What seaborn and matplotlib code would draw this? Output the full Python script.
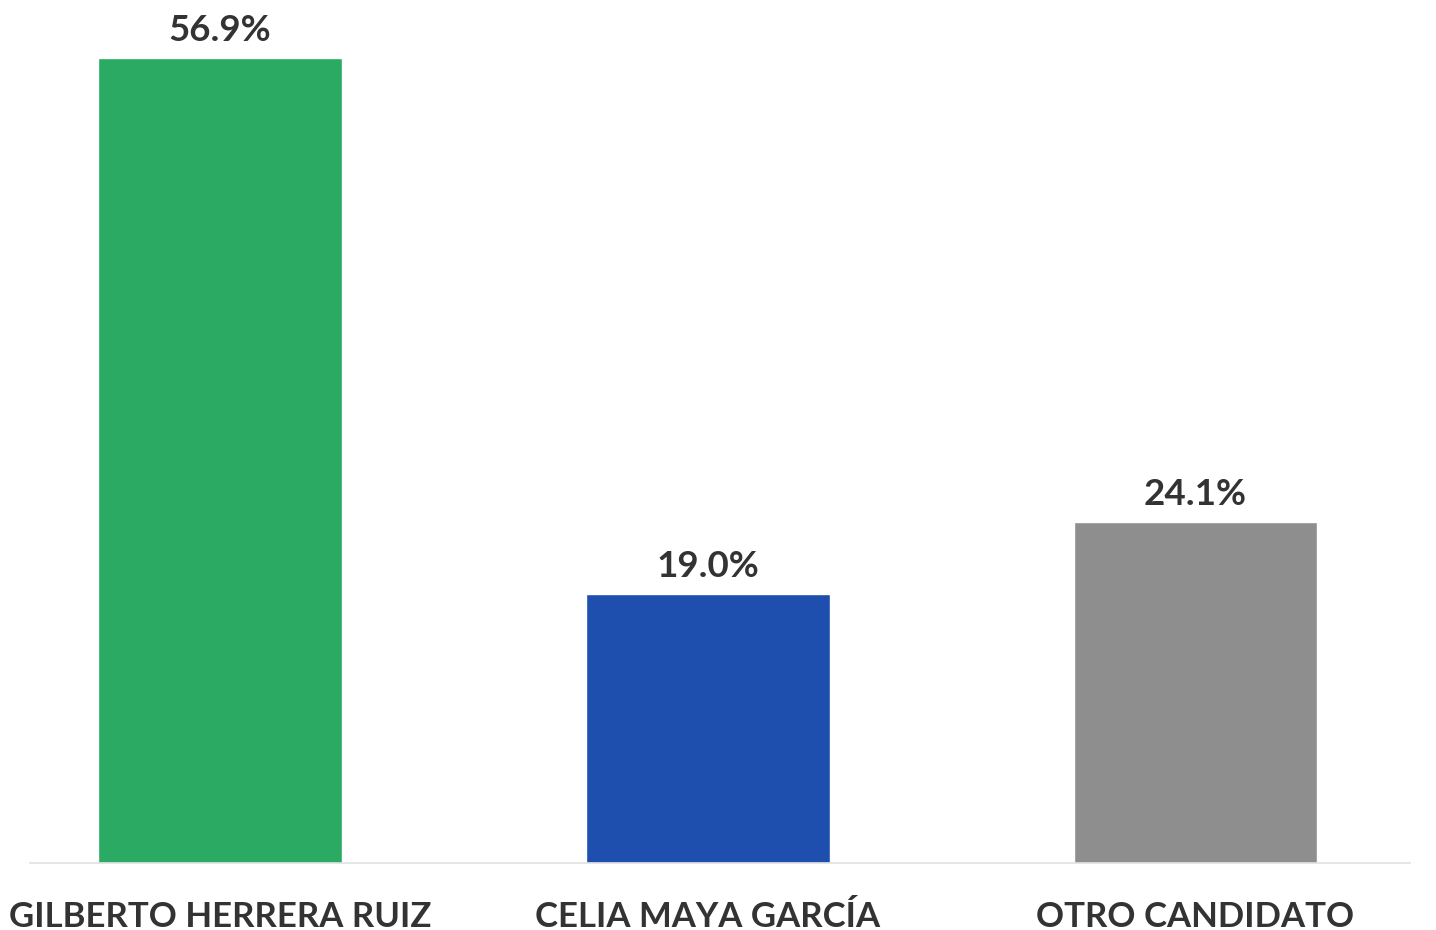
import matplotlib
matplotlib.use("Agg")
import matplotlib.pyplot as plt
import seaborn as sns
import pandas as pd

candidatos = ["GILBERTO HERRERA RUIZ", "CELIA MAYA GARCÍA", "OTRO CANDIDATO"]
porcentajes = [56.9, 19.0, 24.1]
colores = ["#2BAA63", "#1E4FAE", "#8E8E8E"]

sns.set_theme(style="white")
plt.rcParams["font.family"] = ["Lato", "DejaVu Sans"]

df = pd.DataFrame({"candidato": candidatos, "pct": porcentajes})

fig = plt.figure(figsize=(14.36, 9.30), dpi=100)
ax = fig.add_axes([30 / 1436, 67 / 930, 1380 / 1436, 863 / 930])

sns.barplot(data=df, x="candidato", y="pct", hue="candidato",
            palette=colores, width=0.5, ax=ax, legend=False,
            saturation=1)

for i, v in enumerate(porcentajes):
    ax.text(i, v + 1.2, f"{v:.1f}%", ha="center", va="baseline",
            fontsize=26.5, fontweight="bold", color="#333333")

ax.set_xlim(-0.39, 2.44)
ax.set_ylim(0, 61.0)
ax.set_xlabel("")
ax.set_ylabel("")
ax.set_yticks([])
ax.tick_params(axis="x", length=0, pad=27, labelsize=25, colors="#333333")
for lbl in ax.get_xticklabels():
    lbl.set_fontweight("bold")
for s in ["top", "right", "left"]:
    ax.spines[s].set_visible(False)
ax.spines["bottom"].set_color("#E0E0E0")
ax.spines["bottom"].set_linewidth(1.2)

fig.savefig("out.png", dpi=100, facecolor="white")
